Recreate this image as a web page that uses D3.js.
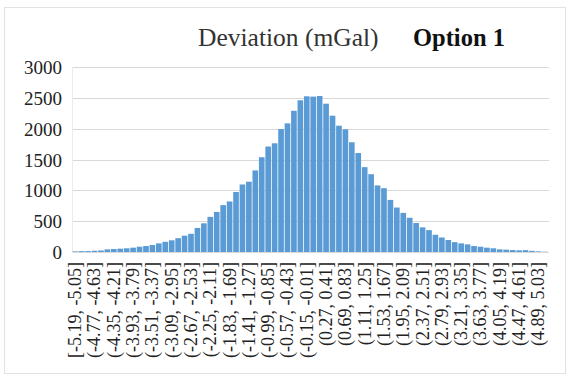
<!DOCTYPE html>
<html><head><meta charset="utf-8">
<script src="https://cdn.jsdelivr.net/npm/d3@7"></script>
<style>body{margin:0;background:#fff}svg{display:block}</style>
</head><body>
<script>
// Bin edges (mGal), width 0.14
const binEdges = [-5.19,-5.05,-4.91,-4.77,-4.63,-4.49,-4.35,-4.21,-4.07,-3.93,-3.79,-3.65,-3.51,-3.37,-3.23,-3.09,-2.95,-2.81,-2.67,-2.53,-2.39,-2.25,-2.11,-1.97,-1.83,-1.69,-1.55,-1.41,-1.27,-1.13,-0.99,-0.85,-0.71,-0.57,-0.43,-0.29,-0.15,-0.01,0.13,0.27,0.41,0.55,0.69,0.83,0.97,1.11,1.25,1.39,1.53,1.67,1.81,1.95,2.09,2.23,2.37,2.51,2.65,2.79,2.93,3.07,3.21,3.35,3.49,3.63,3.77,3.91,4.05,4.19,4.33,4.47,4.61,4.75,4.89,5.03,5.17];
// Counts per bin
const counts = [10,15,15,20,25,43,48,54,60,70,86,97,113,140,165,190,224,265,295,390,465,570,650,760,820,973,1095,1140,1323,1537,1710,1763,1995,2086,2290,2460,2525,2520,2530,2405,2210,2048,1990,1779,1605,1376,1262,1080,1035,845,721,634,555,470,400,355,280,235,195,160,140,124,97,86,70,60,43,38,32,27,30,19,10,5];
// Shown x tick labels (every third bin)
const xTickLabels = ["[-5.19, -5.05]","(-4.77, -4.63]","(-4.35, -4.21]","(-3.93, -3.79]","(-3.51, -3.37]","(-3.09, -2.95]","(-2.67, -2.53]","(-2.25, -2.11]","(-1.83, -1.69]","(-1.41, -1.27]","(-0.99, -0.85]","(-0.57, -0.43]","(-0.15, -0.01]","(0.27, 0.41]","(0.69, 0.83]","(1.11, 1.25]","(1.53, 1.67]","(1.95, 2.09]","(2.37, 2.51]","(2.79, 2.93]","(3.21, 3.35]","(3.63, 3.77]","(4.05, 4.19]","(4.47, 4.61]","(4.89, 5.03]"];
const yTicks = [0,500,1000,1500,2000,2500,3000];

const categories = counts.map((c,i)=> (i===0?"[":"(") + binEdges[i].toFixed(2) + ", " + binEdges[i+1].toFixed(2) + "]");
const data = counts.map((c,i)=>({cat:categories[i], v:c}));

const W=570,H=378;
const svg=d3.select("body").append("svg").attr("width",W).attr("height",H);
svg.append("rect").attr("x",4.5).attr("y",7.5).attr("width",561).attr("height",366)
  .attr("fill","#fff").attr("stroke","#e2e2e2");

const x=d3.scaleBand().domain(categories).range([72,548]).paddingInner(0.12).paddingOuter(0.06);
const y=d3.scaleLinear().domain([0,3000]).range([252,67]);
const font="'Liberation Serif','Times New Roman',serif";

// gridlines
svg.append("g").selectAll("line").data(yTicks).join("line")
  .attr("x1",72).attr("x2",549).attr("y1",d=>Math.round(y(d))+0.5).attr("y2",d=>Math.round(y(d))+0.5)
  .attr("stroke","#d9d9d9").attr("stroke-width",1);
svg.append("line").attr("x1",72.5).attr("x2",72.5).attr("y1",67).attr("y2",253).attr("stroke","#ececec");

// bars
svg.append("g").selectAll("rect").data(data).join("rect")
  .attr("x",d=>x(d.cat)).attr("width",x.bandwidth())
  .attr("y",d=>y(d.v)).attr("height",d=>y(0)-y(d.v)).attr("fill","#5b9bd5");

// y axis labels
const yAxis=d3.axisLeft(y).tickValues(yTicks).tickSize(0).tickPadding(0).tickFormat(d3.format("d"));
const gy=svg.append("g").attr("transform","translate(62,0)").call(yAxis);
gy.select(".domain").remove();
gy.selectAll("text").attr("font-family",font).attr("font-size",19).attr("fill","#222").attr("dy","0.35em");

// x axis labels (every third category)
const shown = categories.filter((c,i)=>i%3===0 && xTickLabels.includes(c));
const xAxis=d3.axisBottom(x).tickValues(shown).tickSize(0).tickFormat(d=>d);
const gx=svg.append("g").attr("transform","translate(0,258)").call(xAxis);
gx.select(".domain").remove();
gx.selectAll("text").attr("font-family",font).attr("font-size",18).attr("fill","#222")
  .attr("transform","rotate(-90)").attr("text-anchor","end").attr("x",-4).attr("y",0).attr("dy","0.33em");

// title
svg.append("text").attr("x",198).attr("y",46).attr("font-family",font).attr("font-size",25.5)
  .attr("fill","#333").text("Deviation (mGal)");
svg.append("text").attr("x",413).attr("y",46).attr("font-family",font).attr("font-size",24.5)
  .attr("font-weight","bold").attr("fill","#111").text("Option 1");
</script>
</body></html>
